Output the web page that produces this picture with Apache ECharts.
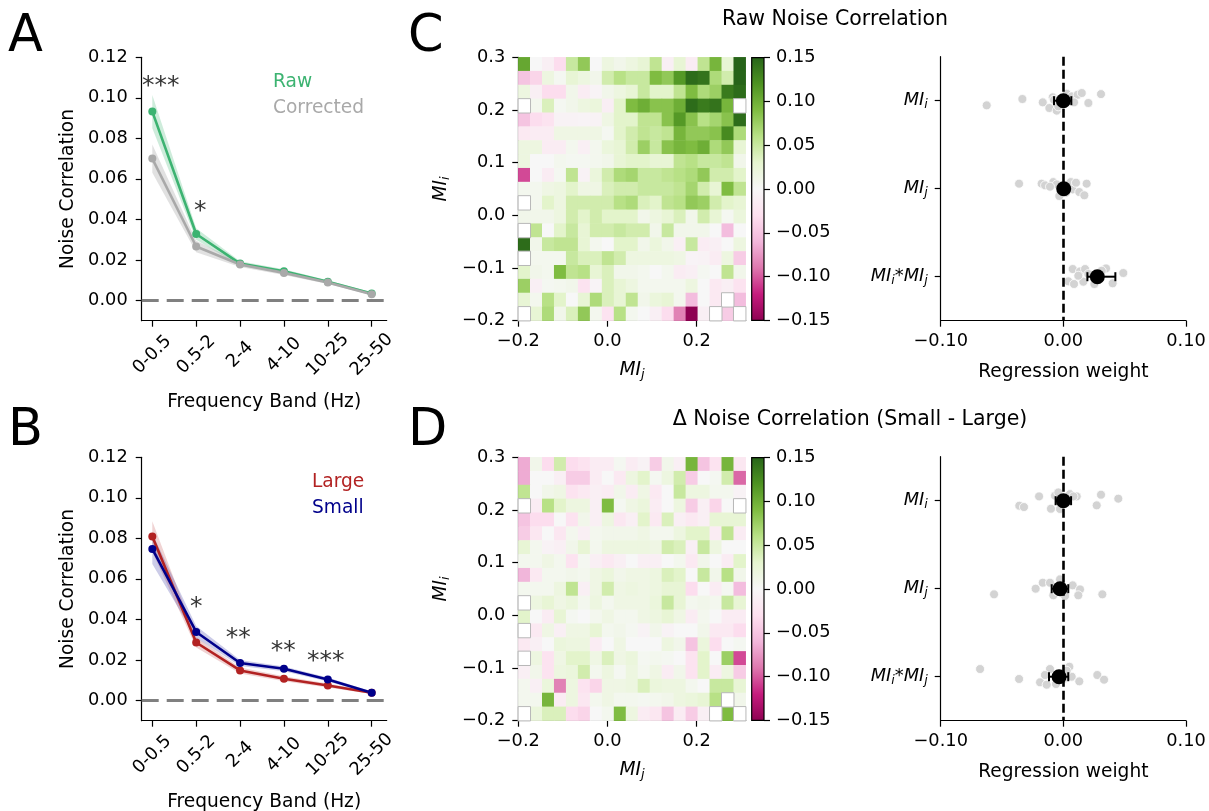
<!DOCTYPE html>
<html><head><meta charset="utf-8">
<script src="https://cdn.jsdelivr.net/npm/echarts@6/dist/echarts.min.js"></script>
<style>html,body{margin:0;padding:0;background:#fff}#c{width:1209px;height:811px}</style>
</head><body><div id="c"></div>
<script>
// ---------------- DATA ----------------
const bandLabels = ['0-0.5','0.5-2','2-4','4-10','10-25','25-50'];
const rawMean   = [0.0932, 0.0328, 0.0182, 0.0144, 0.0092, 0.0034];
const rawErr    = [0.0082, 0.0028, 0.0012, 0.0010, 0.0008, 0.0006];
const corrMean  = [0.0700, 0.0266, 0.0177, 0.0136, 0.0089, 0.0031];
const corrErr   = [0.0070, 0.0028, 0.0012, 0.0010, 0.0008, 0.0006];
const largeMean = [0.0809, 0.0286, 0.0148, 0.0107, 0.0074, 0.0038];
const largeErr  = [0.0075, 0.0025, 0.0015, 0.0012, 0.0010, 0.0006];
const smallMean = [0.0748, 0.0338, 0.0185, 0.0156, 0.0103, 0.0038];
const smallErr  = [0.0075, 0.0030, 0.0015, 0.0012, 0.0010, 0.0006];
const aStarText = ['***', '*'];
const aStarX = [0.19, 1.09];
const aStarY = [0.1055, 0.044];
const bStarText = ['*', '**', '**', '***'];
const bStarX = [1.0, 1.96, 2.985, 3.955];
const bStarY = [0.046, 0.0305, 0.024, 0.019];

// heatmap rows listed from top (MI_i = 0.3) to bottom (MI_i = -0.2); null = empty bin
const rawHeat = [
 [0.105,0.0,-0.01,-0.032,0.05,0.08,0.0,0.018,0.01,0.018,0.026,0.055,-0.01,0.026,-0.015,0.055,0.095,0.026,0.15],
 [-0.05,-0.038,0.018,0.005,0.026,0.018,0.01,0.044,0.06,0.05,0.05,0.09,0.08,0.115,0.145,0.14,0.065,0.044,0.15],
 [0.018,-0.01,-0.032,-0.032,0.01,-0.015,-0.005,0.01,0.018,0.026,0.05,0.032,0.032,0.055,0.09,0.065,0.075,0.135,0.145],
 [null,0.007,0.038,0.005,0.01,0.018,0.021,-0.012,0.032,0.09,0.1,0.085,0.085,0.1,0.145,0.135,0.14,0.095,null],
 [-0.05,-0.032,-0.026,-0.007,-0.007,-0.005,-0.007,0.015,0.032,0.032,0.055,0.055,0.085,0.115,0.085,0.06,0.07,0.085,0.145],
 [-0.018,-0.015,-0.015,0.015,0.015,0.015,0.015,0.005,0.032,0.044,0.055,0.05,0.055,0.095,0.08,0.08,0.085,0.125,0.065],
 [0.018,0.018,-0.015,-0.015,0.007,-0.01,0.007,0.021,0.026,0.044,0.075,0.05,0.085,0.095,0.09,0.1,0.065,0.08,0.026],
 [0.018,0.0,0.0,0.007,0.005,0.005,0.007,0.01,0.026,0.032,0.032,0.026,0.026,0.055,0.06,0.05,0.05,0.055,0.01],
 [-0.105,0.0,-0.015,0.005,0.055,-0.007,0.021,0.044,0.065,0.07,0.05,0.05,0.055,0.06,0.065,0.08,0.044,0.044,0.032],
 [0.007,0.007,0.015,0.018,0.032,0.015,0.015,0.038,0.044,0.044,0.05,0.05,0.05,0.055,0.07,0.044,0.026,0.09,0.055],
 [null,0.007,0.032,0.018,0.044,0.044,0.044,0.044,0.06,0.065,0.038,0.032,0.055,0.06,0.08,0.075,0.044,0.032,0.026],
 [0.01,0.01,0.01,0.018,0.044,0.032,0.044,0.032,0.032,0.032,0.01,0.018,0.026,0.038,0.01,0.044,0.026,0.005,0.021],
 [null,0.055,0.0,0.032,0.05,0.026,0.044,0.044,0.05,0.044,0.044,0.01,0.05,0.01,0.01,0.01,0.0,-0.055,0.0],
 [0.145,0.01,0.05,0.055,0.055,0.026,0.007,0.0,0.032,0.032,0.01,0.021,0.01,-0.01,0.05,-0.015,-0.01,0.0,0.018],
 [null,0.007,0.007,0.007,0.05,0.038,0.038,0.055,0.044,0.018,0.018,0.018,0.018,0.015,-0.005,-0.007,-0.015,0.018,-0.044],
 [0.032,0.01,0.007,0.09,0.055,0.06,0.026,0.038,0.01,0.01,0.007,0.0,0.007,-0.015,-0.01,0.005,0.0,0.055,0.01],
 [0.075,-0.01,0.005,0.007,0.01,-0.026,-0.005,0.038,0.026,0.018,0.007,0.007,0.007,0.007,0.018,0.0,-0.018,-0.01,-0.026],
 [0.026,0.007,0.06,0.032,0.0,0.026,0.065,0.038,0.026,0.055,0.01,0.021,0.026,0.007,-0.055,0.0,-0.018,null,-0.055],
 [null,0.026,0.065,0.01,0.038,0.08,0.007,-0.026,0.06,0.007,0.0,-0.01,-0.032,-0.085,-0.15,-0.01,null,-0.044,null]
];
const deltaHeat = [
 [-0.065,0.01,-0.032,0.044,-0.032,-0.026,-0.015,-0.015,0.005,-0.015,-0.007,-0.044,0.01,-0.01,0.095,-0.05,-0.026,0.095,-0.021],
 [-0.065,0.0,0.0,-0.01,-0.044,-0.044,-0.015,0.0,-0.018,0.018,0.032,0.005,0.018,0.044,-0.044,0.0,0.005,0.044,-0.095],
 [0.055,0.0,0.01,0.015,-0.026,-0.018,-0.01,-0.015,0.01,-0.015,0.015,-0.018,0.0,0.05,0.018,0.018,0.007,0.007,-0.007],
 [null,-0.015,0.06,0.032,0.018,0.018,-0.01,0.09,0.005,0.015,0.021,-0.015,0.0,0.018,-0.044,-0.01,-0.038,0.0,null],
 [-0.05,-0.032,-0.032,0.0,-0.026,0.01,-0.01,0.018,-0.021,-0.01,0.032,-0.018,0.038,-0.01,-0.018,-0.01,0.026,0.026,0.026],
 [-0.044,-0.021,0.0,-0.021,0.007,-0.01,0.007,0.01,0.01,0.01,0.015,0.007,0.007,0.018,0.032,0.032,-0.015,0.055,-0.015],
 [0.026,0.007,-0.007,-0.01,0.01,0.026,0.007,0.018,0.018,0.018,0.018,0.015,0.044,0.038,-0.01,0.05,0.018,0.0,0.0],
 [0.007,0.007,0.015,0.007,-0.026,0.005,-0.01,-0.018,-0.01,0.0,-0.01,-0.01,0.0,0.007,-0.018,0.01,0.0,-0.015,0.032],
 [-0.06,-0.018,0.007,0.007,0.01,0.007,0.015,0.021,0.01,0.015,0.015,0.018,0.038,0.032,0.0,0.05,0.01,0.06,0.01],
 [0.007,0.007,0.007,0.018,0.055,-0.01,0.015,0.044,0.015,0.018,0.015,0.018,0.026,0.026,-0.032,0.0,-0.015,0.005,-0.055],
 [null,0.018,0.026,0.015,0.021,0.007,0.018,0.007,0.015,0.015,0.015,0.021,0.05,0.026,0.007,0.01,0.007,0.05,0.026],
 [0.032,0.0,-0.015,0.026,0.005,0.0,0.007,0.015,0.007,0.007,0.015,0.018,0.026,0.015,-0.015,0.007,0.0,-0.015,-0.015],
 [null,-0.018,0.015,-0.01,0.015,0.015,0.026,0.007,0.01,0.005,-0.007,0.01,-0.007,0.0,0.0,0.01,-0.018,-0.018,-0.032],
 [-0.018,-0.01,0.0,0.021,0.018,0.018,-0.015,0.0,0.015,0.0,0.0,0.0,0.018,0.01,-0.05,0.021,-0.032,0.0,0.005],
 [null,0.018,-0.026,0.015,0.032,0.032,0.015,0.038,0.015,0.021,0.005,0.007,0.005,0.0,-0.026,0.032,0.0,0.075,-0.105],
 [-0.01,0.01,-0.026,0.018,0.021,0.044,0.007,0.018,0.005,0.018,0.007,0.015,-0.015,0.01,-0.026,0.032,-0.015,0.018,-0.044],
 [0.007,-0.01,0.021,-0.085,0.018,-0.026,-0.038,0.015,0.015,0.018,0.038,0.021,0.018,0.018,0.007,0.0,0.05,0.05,0.026],
 [0.007,0.007,0.095,-0.015,0.018,-0.021,0.007,0.015,0.007,0.007,0.005,0.007,0.01,0.018,0.021,0.026,0.06,null,0.01],
 [null,0.021,0.038,0.038,-0.032,-0.038,0.0,0.007,0.09,0.018,-0.015,-0.021,-0.05,-0.015,-0.044,-0.01,null,0.09,null]
];

// regression panels: 3 predictors (MI_i, MI_j, MI_i*MI_j)
const cRegX = [
 [-0.0625,-0.0334,-0.0168,-0.0087,-0.0114,-0.0054,-0.0041,0.0027,0.0068,0.0117,0.0087,0.0204,0.0307,-0.0076,0.015],
 [-0.0361,-0.0177,-0.0149,-0.0082,-0.0054,-0.0033,0.006,0.0076,0.013,0.019,0.0171,0.0022,0.0103,-0.0109],
 [0.0076,0.0136,0.0177,0.0348,0.0489,0.0041,0.0087,0.0163,0.0253,0.0402,0.0122,0.0204,0.0313,0.0272]
];
const cRegJitter = [
 [0.053,-0.019,0.019,-0.038,0.083,0.113,0.064,-0.079,-0.049,-0.068,0.019,0.026,-0.075,-0.011,-0.087],
 [-0.057,-0.057,-0.038,-0.075,-0.049,0.083,-0.075,0.008,0.038,-0.057,0.075,0.045,-0.068,-0.023],
 [-0.087,-0.06,-0.087,-0.094,-0.042,0.053,0.083,0.057,0.083,0.075,-0.011,-0.03,-0.068,0.026]
];
const cRegMean = [0.0, 0.0003, 0.0277];
const cRegLo   = [-0.0076, -0.0025, 0.0196];
const cRegHi   = [0.0065, 0.0030, 0.0424];
const dRegX = [
 [-0.0198,-0.0359,-0.0321,-0.0101,-0.0068,-0.0041,0.0054,0.0109,0.0082,0.0307,0.0448,0.0272,-0.0027,0.0022],
 [-0.0565,-0.0226,-0.0168,-0.0109,-0.0027,-0.0082,0.0014,0.0076,0.0136,0.0122,0.0318,-0.0054],
 [-0.0679,-0.0361,-0.019,-0.0136,-0.0109,-0.015,-0.006,0.0049,0.0068,0.0,0.013,0.0277,0.0332,0.0027]
];
const dRegJitter = [
 [-0.049,0.057,0.072,0.091,-0.057,-0.094,-0.075,-0.049,-0.049,-0.068,-0.023,0.053,0.094,0.026],
 [0.064,0.0,-0.068,-0.068,-0.106,0.075,0.083,-0.038,0.008,0.075,0.064,0.026],
 [-0.087,0.026,0.064,0.091,-0.087,-0.019,0.083,-0.113,0.0,0.026,0.053,-0.019,0.034,-0.068]
];
const dRegMean = [0.0, -0.0027, -0.0035];
const dRegLo   = [-0.0063, -0.0095, -0.0117];
const dRegHi   = [0.0063, 0.0040, 0.0040];
const predictorLabels = ['{m|MI}{s|i}', '{m|MI}{s|j}', '{m|MI}{s|i}{m|*MI}{s|j}'];
const cbTicks = [-0.15, -0.10, -0.05, 0.0, 0.05, 0.10, 0.15];

// ---------------- STYLE ----------------
const FONT = 'DejaVu Sans';
const TICK = 17.8, NAME = 18.6;
const PiYG = ['#8e0152','#c51b7d','#de77ae','#f1b6da','#fde0ef','#f7f7f7','#e6f5d0','#b8e186','#7fbc41','#4d9221','#276419'];
const fmt = (v, d) => { const r = Number(v.toFixed(d)); return (r < 0 ? '\u2212' : '') + Math.abs(r).toFixed(d); };
const rich = {
  m: {fontFamily: FONT, fontStyle: 'italic', fontSize: TICK, color: '#000'},
  s: {fontFamily: FONT, fontStyle: 'italic', fontSize: 12.5, color: '#000', padding: [9, 0, 0, 0]}
};

function vAxis(o) {
  const a = {
    type: 'value', gridIndex: o.grid, min: o.min, max: o.max, position: o.position,
    inverse: !!o.inverse, show: o.show !== false,
    splitLine: {show: false},
    axisLine: {show: o.line !== false, onZero: false, lineStyle: {color: '#000', width: 1.2}},
    axisTick: {show: true, length: 6, inside: false, lineStyle: {color: '#000', width: 1.2}, customValues: o.ticks},
    axisLabel: {show: true, color: '#000', fontFamily: FONT, fontSize: TICK, margin: o.margin || 12,
      customValues: o.ticks, formatter: o.formatter, rich: rich},
    name: o.name || '', nameLocation: 'middle', nameGap: o.nameGap || 40, nameMoveOverlap: false,
    nameTextStyle: {color: '#000', fontFamily: FONT, fontSize: NAME, rich: o.nameRich}
  };
  if (o.rotate) { a.axisLabel.rotate = o.rotate; a.axisLabel.align = 'center'; a.axisLabel.verticalAlign = 'middle'; }
  return a;
}
function cAxis(grid, position, n) {
  return {type: 'category', gridIndex: grid, position: position, show: false,
    data: Array.from({length: n}, (_, i) => String(i)), boundaryGap: true};
}
const nameRich = {
  m: {fontFamily: FONT, fontStyle: 'italic', fontSize: NAME, color: '#000'},
  s: {fontFamily: FONT, fontStyle: 'italic', fontSize: 13, color: '#000', padding: [9, 0, 0, 0]}
};

const bandIdx = [0, 1, 2, 3, 4, 5];
const freqXAxis = g => vAxis({grid: g, min: -0.242, max: 5.342, ticks: bandIdx, rotate: 45, margin: 34,
  formatter: v => bandLabels[Math.round(v)], name: 'Frequency Band (Hz)', nameGap: 72});
const ncYAxis = g => vAxis({grid: g, min: -0.01, max: 0.12, ticks: [0, 0.02, 0.04, 0.06, 0.08, 0.10, 0.12],
  margin: 14, formatter: v => fmt(v, 2), name: 'Noise Correlation', nameGap: 64});

const xAxes = [
  freqXAxis(0), freqXAxis(1),
  vAxis({grid: 2, min: -0.2, max: 0.31, ticks: [-0.2, 0, 0.2], position: 'bottom', margin: 12,
    formatter: v => fmt(v, 1), name: '{m|MI}{s|j}', nameRich: nameRich, nameGap: 38}),
  cAxis(2, 'top', 19),
  vAxis({grid: 3, min: 0, max: 1, show: false, ticks: []}),
  vAxis({grid: 4, min: -0.1, max: 0.1, ticks: [-0.1, 0, 0.1], margin: 12, formatter: v => fmt(v, 2),
    name: 'Regression weight', nameGap: 42}),
  vAxis({grid: 5, min: -0.2, max: 0.31, ticks: [-0.2, 0, 0.2], position: 'bottom', margin: 12,
    formatter: v => fmt(v, 1), name: '{m|MI}{s|j}', nameRich: nameRich, nameGap: 38}),
  cAxis(5, 'top', 19),
  vAxis({grid: 6, min: 0, max: 1, show: false, ticks: []}),
  vAxis({grid: 7, min: -0.1, max: 0.1, ticks: [-0.1, 0, 0.1], margin: 12, formatter: v => fmt(v, 2),
    name: 'Regression weight', nameGap: 42})
];
const heatYAxis = g => vAxis({grid: g, min: -0.2, max: 0.3, ticks: [-0.2, -0.1, 0, 0.1, 0.2, 0.3], position: 'left',
  margin: 13, formatter: v => fmt(v, 1), name: '{m|MI}{s|i}', nameRich: nameRich, nameGap: 66});
const cbYAxis = g => vAxis({grid: g, min: -0.15, max: 0.15, ticks: cbTicks, position: 'right', line: false,
  margin: 12, formatter: v => fmt(v, 2)});
const regYAxis = g => vAxis({grid: g, min: -0.5, max: 2.5, inverse: true, ticks: [0, 1, 2], margin: 13,
  formatter: v => predictorLabels[Math.round(v)]});
const yAxes = [
  ncYAxis(0), ncYAxis(1),
  heatYAxis(2), cAxis(2, 'right', 19), cbYAxis(3), regYAxis(4),
  heatYAxis(5), cAxis(5, 'right', 19), cbYAxis(6), regYAxis(7)
];

// ---------------- SERIES ----------------
const series = [];
function bandPoly(xi, yi, mean, err, fill) {
  series.push({type: 'custom', xAxisIndex: xi, yAxisIndex: yi, silent: true, z: 1, data: [[0, 0]],
    renderItem: (p, api) => {
      const pts = [];
      for (let i = 0; i < mean.length; i++) pts.push(api.coord([i, mean[i] + err[i]]));
      for (let i = mean.length - 1; i >= 0; i--) pts.push(api.coord([i, mean[i] - err[i]]));
      return {type: 'polygon', shape: {points: pts}, style: {fill: fill}};
    }});
}
function meanLine(xi, yi, mean, color, zero) {
  const s = {type: 'line', xAxisIndex: xi, yAxisIndex: yi, z: 3, data: mean.map((v, i) => [i, v]),
    symbol: 'circle', symbolSize: 8, showSymbol: true, itemStyle: {color: color, opacity: 1},
    lineStyle: {color: color, width: 2.6}, animation: false};
  if (zero) s.markLine = {silent: true, symbol: 'none', label: {show: false},
    lineStyle: {color: '#808080', type: [17, 8], width: 3}, data: [{yAxis: 0}]};
  series.push(s);
}
function stars(xi, yi, xs, ys, txt) {
  series.push({type: 'scatter', xAxisIndex: xi, yAxisIndex: yi, z: 5, symbolSize: 1,
    itemStyle: {color: 'rgba(0,0,0,0)'},
    data: xs.map((x, i) => ({value: [x, ys[i]], name: txt[i]})),
    label: {show: true, position: 'inside', formatter: '{b}', color: '#000', fontFamily: FONT, fontSize: 25}});
}
// Panel A
bandPoly(0, 0, rawMean, rawErr, 'rgba(60,179,113,0.25)');
bandPoly(0, 0, corrMean, corrErr, 'rgba(169,169,169,0.35)');
meanLine(0, 0, rawMean, '#3cb371', true);
meanLine(0, 0, corrMean, '#a9a9a9', false);
stars(0, 0, aStarX, aStarY, aStarText);
// Panel B
bandPoly(1, 1, largeMean, largeErr, 'rgba(178,34,34,0.2)');
bandPoly(1, 1, smallMean, smallErr, 'rgba(0,0,139,0.2)');
meanLine(1, 1, largeMean, '#b22222', true);
meanLine(1, 1, smallMean, '#00008b', false);
stars(1, 1, bStarX, bStarY, bStarText);

// Heatmaps
const heatIdx = [];
function heat(xi, yi, rows) {
  const d = [], nan = [];
  const n = rows.length;
  rows.forEach((row, r) => row.forEach((v, c) => {
    if (v === null) nan.push([c, n - 1 - r, 0]); else d.push([c, n - 1 - r, v]);
  }));
  heatIdx.push(series.length);
  series.push({type: 'heatmap', xAxisIndex: xi, yAxisIndex: yi, data: d, z: 1, animation: false});
  series.push({type: 'heatmap', xAxisIndex: xi, yAxisIndex: yi, data: nan, z: 1, animation: false,
    itemStyle: {color: '#ffffff', borderColor: '#b8b8b8', borderWidth: 1}});
}
function colorbar(xi, yi) {
  series.push({type: 'custom', xAxisIndex: xi, yAxisIndex: yi, silent: true, data: [[0, 0]],
    renderItem: (p, api) => {
      const a = api.coord([0, cbTicks[cbTicks.length - 1]]);
      const b = api.coord([1, cbTicks[0]]);
      const stops = PiYG.slice().reverse().map((c, i) => ({offset: i / (PiYG.length - 1), color: c}));
      return {type: 'rect', shape: {x: a[0], y: a[1], width: b[0] - a[0], height: b[1] - a[1]},
        style: {fill: new echarts.graphic.LinearGradient(0, 0, 0, 1, stops), stroke: '#000', lineWidth: 1.2}};
    }});
}
heat(3, 3, rawHeat); colorbar(4, 4);
heat(7, 7, deltaHeat); colorbar(8, 8);

// Regression panels
function regression(xi, yi, X, J, mean, lo, hi) {
  const pts = [];
  X.forEach((row, k) => row.forEach((x, i) => pts.push([x, k + J[k][i]])));
  series.push({type: 'scatter', xAxisIndex: xi, yAxisIndex: yi, z: 2, data: pts, symbolSize: 9,
    itemStyle: {color: '#d3d3d3', opacity: 1, borderColor: '#ffffff', borderWidth: 0.8},
    markLine: {silent: true, symbol: 'none', label: {show: false}, z: 3,
      lineStyle: {color: '#000', type: [9, 4], width: 2.6}, data: [{xAxis: 0}]}});
  series.push({type: 'custom', xAxisIndex: xi, yAxisIndex: yi, z: 4,
    data: mean.map((m, k) => [m, k, lo[k], hi[k]]),
    renderItem: (p, api) => {
      const y = api.value(1);
      const a = api.coord([api.value(2), y]), b = api.coord([api.value(3), y]);
      const h = 4.5, st = {stroke: '#000', lineWidth: 2};
      return {type: 'group', children: [
        {type: 'line', shape: {x1: a[0], y1: a[1], x2: b[0], y2: b[1]}, style: st},
        {type: 'line', shape: {x1: a[0], y1: a[1] - h, x2: a[0], y2: a[1] + h}, style: st},
        {type: 'line', shape: {x1: b[0], y1: b[1] - h, x2: b[0], y2: b[1] + h}, style: st}]};
    }});
  series.push({type: 'scatter', xAxisIndex: xi, yAxisIndex: yi, z: 5, symbolSize: 15,
    data: mean.map((m, k) => [m, k]), itemStyle: {color: '#000', opacity: 1}});
}
regression(5, 5, cRegX, cRegJitter, cRegMean, cRegLo, cRegHi);
regression(9, 9, dRegX, dRegJitter, dRegMean, dRegLo, dRegHi);

// ---------------- TEXT ----------------
const txt = (x, y, t, size, color, align) => ({type: 'text', x: x, y: y, silent: true,
  style: {text: t, fontFamily: FONT, fontSize: size, fill: color || '#000', align: align || 'left', verticalAlign: 'middle'}});
const graphics = [
  txt(8, 38, 'A', 51), txt(8, 432, 'B', 51), txt(408, 38, 'C', 51), txt(408, 432, 'D', 51),
  txt(835, 20, 'Raw Noise Correlation', 20.5, '#000', 'center'),
  txt(850, 420, '\u0394 Noise Correlation (Small - Large)', 20.5, '#000', 'center'),
  txt(273, 82, 'Raw', NAME, '#3cb371'), txt(273, 108, 'Corrected', NAME, '#a9a9a9'),
  txt(312, 482, 'Large', NAME, '#b22222'), txt(312, 508, 'Small', NAME, '#00008b')
];

const chart = echarts.init(document.getElementById('c'), null, {renderer: 'canvas'});
chart.setOption({
  animation: false,
  backgroundColor: '#fff',
  textStyle: {fontFamily: FONT},
  grid: [
    {left: 141.7, top: 57.3, width: 245, height: 263.4},
    {left: 141.7, top: 457.3, width: 245, height: 263.4},
    {left: 518.3, top: 57.3, width: 227.4, height: 263.4},
    {left: 751.7, top: 57.7, width: 12.3, height: 262.6},
    {left: 940.7, top: 56.7, width: 245.3, height: 264},
    {left: 518.3, top: 457.3, width: 227.4, height: 263.4},
    {left: 751.7, top: 457.7, width: 12.3, height: 262.6},
    {left: 940.7, top: 456.7, width: 245.3, height: 264}
  ].map(g => Object.assign(g, {containLabel: false, outerBoundsMode: 'none'})),
  xAxis: xAxes,
  yAxis: yAxes,
  visualMap: [{type: 'continuous', show: false, min: -0.15, max: 0.15, dimension: 2,
    seriesIndex: heatIdx, inRange: {color: PiYG}}],
  series: series,
  graphic: graphics
});
</script></body></html>
